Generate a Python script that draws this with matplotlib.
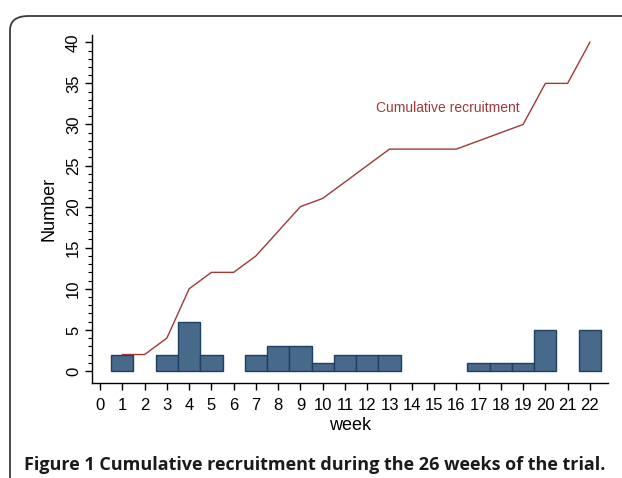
import matplotlib
matplotlib.use("Agg")
import matplotlib.pyplot as plt
from matplotlib.patches import FancyBboxPatch
import numpy as np

weeks = [1, 3, 4, 5, 7, 8, 9, 10, 11, 12, 13, 17, 18, 19, 20, 22]
counts = [2, 2, 6, 2, 2, 3, 3, 1, 2, 2, 2, 1, 1, 1, 5, 5]
cum_weeks = list(range(1, 23))
cum_values = [2, 2, 4, 10, 12, 12, 14, 17, 20, 21, 23, 25, 27, 27, 27, 27, 28, 29, 30, 35, 35, 40]
xticks = list(range(0, 23))
yticks = [0, 5, 10, 15, 20, 25, 30, 35, 40]

plt.rcParams['font.family'] = ['Liberation Sans', 'DejaVu Sans']

fig = plt.figure(figsize=(6.22, 4.78), dpi=100)
ax = fig.add_axes([0.148, 0.199, 0.829, 0.728])

ax.bar(weeks, counts, width=1.0, color='#476a8b', edgecolor='#1c3f63', linewidth=1.0, zorder=2)
ax.plot(cum_weeks, cum_values, color='#a03838', linewidth=1.0, zorder=3)
ax.text(12.4, 32.0, 'Cumulative recruitment', color='#a03838', fontsize=10, va='center', ha='left')

ax.set_xlim(-0.36, 22.8)
ax.set_ylim(-1.45, 40.9)
ax.set_xticks(xticks)
ax.set_xticklabels([str(t) for t in xticks])
ax.set_yticks(yticks)
ax.set_yticklabels([str(t) for t in yticks], rotation=90, va='center')
ax.set_yticks(np.arange(0, 41, 1), minor=True)
ax.tick_params(axis='both', which='major', labelsize=12, direction='out', length=5, width=1, colors='black')
ax.tick_params(axis='y', which='minor', length=3, width=0.8)
ax.tick_params(axis='x', which='major', pad=6)
ax.tick_params(axis='y', which='major', pad=3)
for s in ['top', 'right']:
    ax.spines[s].set_visible(False)
for s in ['left', 'bottom']:
    ax.spines[s].set_linewidth(1.0)

ax.set_xlabel('week', fontsize=13, labelpad=3)
ax.set_ylabel('Number', fontsize=13, labelpad=6)

frame = FancyBboxPatch((10/622, -0.05), 1.2, 1 - 16/478 + 0.05,
                       boxstyle='round,pad=0,rounding_size=0.03',
                       transform=fig.transFigure, fill=False,
                       edgecolor='#3a3a3a', linewidth=1.3, clip_on=False)
fig.patches.append(frame)

fig.text(24/622, 1 - 470/478, 'Figure 1 Cumulative recruitment during the 26 weeks of the trial.',
         fontsize=13, fontweight='bold', family='Open Sans', ha='left', va='baseline',
         color='#1a1a1a')

fig.savefig('out.png', dpi=100)
